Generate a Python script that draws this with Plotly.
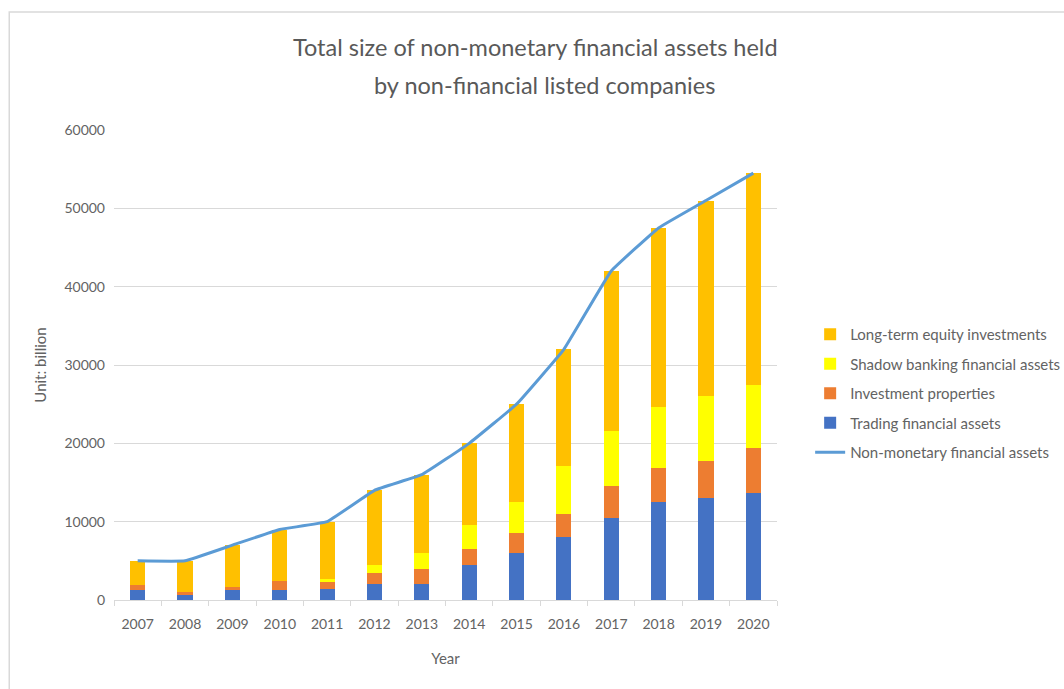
import plotly.graph_objects as go

years = ["2007", "2008", "2009", "2010", "2011", "2012", "2013",
         "2014", "2015", "2016", "2017", "2018", "2019", "2020"]
trading = [1300, 600, 1300, 1300, 1400, 2000, 2000, 4500, 6000, 8000, 10500, 12500, 13000, 13600]
investment_prop = [600, 400, 400, 1100, 900, 1400, 2000, 2000, 2500, 3000, 4100, 4300, 4800, 5800]
shadow = [0, 0, 0, 0, 400, 1100, 2000, 3100, 4000, 6100, 7000, 7900, 8200, 8000]
long_term = [3100, 4000, 5300, 6600, 7300, 9500, 10000, 10400, 12500, 14900, 20400, 22800, 25000, 27100]
total = [5000, 5000, 7000, 9000, 10000, 14000, 16000, 20000, 25000, 32000, 42000, 47500, 51000, 54500]
y_ticks = [0, 10000, 20000, 30000, 40000, 50000, 60000]
y_tick_labels = ["0", "10000", "20000", "30000", "40000", "50000", "60000"]

FONT = "Lato"
GRAY = "#636363"

fig = go.Figure()
bar_series = [
    ("Trading financial assets", trading, "#4472C4", 4),
    ("Investment properties", investment_prop, "#ED7D31", 3),
    ("Shadow banking financial assets", shadow, "#FFFF00", 2),
    ("Long-term equity investments", long_term, "#FFC000", 1),
]
for name, vals, color, rank in bar_series:
    fig.add_trace(go.Bar(
        x=years, y=vals, name=name, marker_color=color,
        marker_line_width=0, width=0.32, legendrank=rank, legendgroup=name,
    ))
fig.add_trace(go.Scatter(
    x=years, y=total, name="Non-monetary financial assets", mode="lines",
    line=dict(color="#5B9BD5", width=3, shape="spline", smoothing=0.25),
    legendrank=5, legendgroup="line",
))

fig.update_layout(
    width=1064, height=689,
    margin=dict(l=114, r=287, t=130, b=89, autoexpand=False),
    barmode="stack",
    plot_bgcolor="white", paper_bgcolor="white",
    font=dict(family=FONT, color=GRAY, size=14),
    showlegend=True,
    legend=dict(x=1.050, y=0.60, xanchor="left", yanchor="top",
                font=dict(family=FONT, size=15, color=GRAY),
                tracegroupgap=7, bgcolor="rgba(0,0,0,0)"),
    xaxis=dict(type="category", showgrid=False, showline=True, linecolor="#d9d9d9",
               ticks="outside", tickson="boundaries", ticklen=5, tickcolor="#d9d9d9",
               tickfont=dict(family=FONT, size=14, color=GRAY), ticklabelstandoff=11,
               title=dict(text="Year", font=dict(family=FONT, size=15, color=GRAY), standoff=22)),
    yaxis=dict(range=[0, 60000], tickvals=y_ticks, ticktext=y_tick_labels,
               showgrid=True, gridcolor="#d9d9d9",
               zeroline=False, showline=False, ticks="",
               tickfont=dict(family=FONT, size=14, color=GRAY), ticklabelstandoff=8,
               title=dict(text="Unit: billion", font=dict(family=FONT, size=15, color=GRAY), standoff=14)),
    annotations=[
        dict(text="Total size of non-monetary financial assets held", xref="paper", yref="paper",
             x=0.635, y=1.177, xanchor="center", yanchor="middle", showarrow=False,
             font=dict(family=FONT, size=23.5, color="#595959")),
        dict(text="by non-financial listed companies", xref="paper", yref="paper",
             x=0.65, y=1.096, xanchor="center", yanchor="middle", showarrow=False,
             font=dict(family=FONT, size=23.5, color="#595959")),
    ],
    shapes=[dict(type="rect", xref="paper", yref="paper", x0=-0.158, x1=2, y0=-1, y1=1.251,
                 line=dict(color="#d9d9d9", width=1.5), fillcolor="rgba(0,0,0,0)", layer="below")],
)

fig.write_html("out.html")
